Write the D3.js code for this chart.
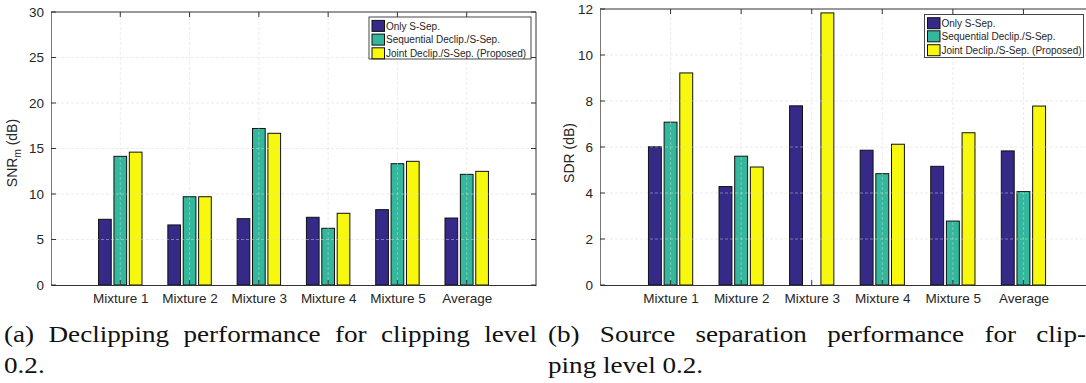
<!DOCTYPE html>
<html>
<head>
<meta charset="utf-8">
<script src="https://cdn.jsdelivr.net/npm/d3@7"></script>
<style>
  html, body { margin: 0; padding: 0; background: #fff; }
  svg { display: block; }
  .tick-label { font-family: "Liberation Sans", Arial, sans-serif; fill: #262626; }
  .caption { font-family: "Liberation Serif", serif; fill: #111; }
</style>
</head>
<body>
<svg id="chart" width="1086" height="383"></svg>
<script>
// Categories and series
const categories = ["Mixture 1", "Mixture 2", "Mixture 3", "Mixture 4", "Mixture 5", "Average"];
const seriesNames = ["Only S-Sep.", "Sequential Declip./S-Sep.", "Joint Declip./S-Sep. (Proposed)"];
const seriesColors = ["#352A87", "#33B79D", "#F8F80E"];

// SNR_m (dB), declipping performance
const snrOnly       = [7.22, 6.60, 7.29, 7.44, 8.28, 7.36];
const snrSequential = [14.14, 9.70, 17.20, 6.23, 13.33, 12.16];
const snrJoint      = [14.60, 9.70, 16.67, 7.88, 13.59, 12.49];

// SDR (dB), source separation performance (no sequential result for Mixture 3)
const sdrOnly       = [6.01, 4.28, 7.79, 5.86, 5.16, 5.83];
const sdrSequential = [7.08, 5.60, null, 4.84, 2.78, 4.06];
const sdrJoint      = [9.22, 5.13, 11.83, 6.12, 6.62, 7.78];

const snrTicks = [0, 5, 10, 15, 20, 25, 30];
const sdrTicks = [0, 2, 4, 6, 8, 10, 12];

const captionA = ["(a) Declipping performance for clipping level", "0.2."];
const captionB = ["(b) Source separation performance for clip-", "ping level 0.2."];

const svg = d3.select("#chart");

function drawPanel(opts) {
  const { xRange, yRange, yDomain, yTicks, series, yLabel, labelX, legend } = opts;
  const g = svg.append("g");
  const x = d3.scaleLinear().domain([0, 7]).range(xRange);
  const y = d3.scaleLinear().domain(yDomain).range(yRange);
  const [x0, x1] = xRange;
  const [yb, yt] = yRange;
  const catPos = categories.map((c, i) => i + 1);

  // bars
  const offsets = [-0.222, 0, 0.222];
  const bw = 0.183;
  series.forEach((vals, si) => {
    const data = vals.map((v, i) => ({ v, i })).filter(d => d.v !== null);
    g.append("g").selectAll("rect").data(data).join("rect")
      .attr("x", d => x(d.i + 1 + offsets[si] - bw / 2))
      .attr("width", d => x(bw) - x(0))
      .attr("y", d => y(d.v))
      .attr("height", d => y(yDomain[0]) - y(d.v))
      .attr("fill", seriesColors[si])
      .attr("stroke", "#111").attr("stroke-width", 1);
  });

  // dashed grid drawn over the bars
  const grid = g.append("g").attr("stroke", "#d8d8d8").attr("stroke-opacity", 0.6)
    .attr("stroke-width", 0.8).attr("stroke-dasharray", "3,2");
  grid.selectAll("line.gy").data(yTicks.slice(1, -1)).join("line").attr("class", "gy")
    .attr("x1", x0).attr("x2", x1)
    .attr("y1", d => y(d)).attr("y2", d => y(d));
  grid.selectAll("line.gx").data(catPos).join("line").attr("class", "gx")
    .attr("x1", d => x(d)).attr("x2", d => x(d))
    .attr("y1", yb).attr("y2", yt);

  // axes (ticks inward on all sides)
  const axisColor = "#333";
  const left = g.append("g").attr("transform", `translate(${x0},0)`)
    .call(d3.axisLeft(y).tickValues(yTicks).tickSize(0).tickPadding(7));
  left.selectAll("text").attr("class", "tick-label").style("font-size", "13.5px");
  left.select(".domain").attr("stroke", "#777");
  const bottom = g.append("g").attr("transform", `translate(0,${yb})`)
    .call(d3.axisBottom(x).tickValues(catPos).tickFormat((d, i) => categories[i]).tickSize(0).tickPadding(8));
  bottom.selectAll("text").attr("class", "tick-label").style("font-size", "13.5px");
  bottom.select(".domain").attr("stroke", axisColor);

  // box and inward tick marks
  g.append("line").attr("x1", x0).attr("x2", x1).attr("y1", yt).attr("y2", yt).attr("stroke", axisColor);
  g.append("line").attr("x1", x1).attr("x2", x1).attr("y1", yt).attr("y2", yb).attr("stroke", axisColor);
  const tl = 5;
  g.append("g").selectAll("path").data(catPos).join("path")
    .attr("d", d => `M${x(d)},${yb}v${-tl}M${x(d)},${yt}v${tl}`)
    .attr("stroke", axisColor).attr("fill", "none");
  g.append("g").selectAll("path").data(yTicks).join("path")
    .attr("d", d => `M${x0},${y(d)}h${tl}M${x1},${y(d)}h${-tl}`)
    .attr("stroke", axisColor).attr("fill", "none");

  // y label
  const lab = g.append("text").attr("class", "tick-label")
    .attr("transform", `translate(${labelX},153) rotate(-90)`)
    .attr("text-anchor", "middle").style("font-size", "14px");
  yLabel.forEach(part => {
    const t = lab.append("tspan").text(part.text);
    if (part.sub) t.attr("baseline-shift", "-4").style("font-size", "10px");
    else t.attr("baseline-shift", "0");
  });

  // legend
  const lg = g.append("g").attr("transform", `translate(${legend.x},${legend.y})`);
  lg.append("rect").attr("width", legend.w).attr("height", legend.h)
    .attr("fill", "#fff").attr("stroke", "#333").attr("stroke-width", 0.9);
  seriesNames.forEach((name, i) => {
    const ry = legend.rowY[i];
    lg.append("rect").attr("x", 3).attr("y", ry - 5.5).attr("width", 12.5).attr("height", 11)
      .attr("fill", seriesColors[i]).attr("stroke", "#111").attr("stroke-width", 1);
    lg.append("text").attr("class", "tick-label").attr("x", 17).attr("y", ry + 3.6)
      .style("font-size", "10px").text(name);
  });
}

drawPanel({
  xRange: [51, 536], yRange: [285, 12], yDomain: [0, 30], yTicks: snrTicks,
  series: [snrOnly, snrSequential, snrJoint],
  yLabel: [{ text: "SNR" }, { text: "m", sub: true }, { text: " (dB)" }],
  labelX: 17,
  legend: { x: 369, y: 17, w: 162, h: 42, rowY: [8.9, 22.6, 36.3] }
});

drawPanel({
  xRange: [600, 1094], yRange: [285, 9], yDomain: [0, 12], yTicks: sdrTicks,
  series: [sdrOnly, sdrSequential, sdrJoint],
  yLabel: [{ text: "SDR (dB)" }],
  labelX: 574,
  legend: { x: 924.5, y: 14.5, w: 159, h: 43, rowY: [8.7, 21.8, 35.7] }
});

// captions: serif text widened slightly, first line justified across the column
const capSize = 24, capStretch = 1.13;
function wordWidth(w) {
  const t = svg.append("text").attr("class", "caption").style("font-size", capSize + "px").text(w);
  const len = t.node().getComputedTextLength();
  t.remove();
  return len * capStretch;
}
function putWord(w, x, y, len) {
  svg.append("text").attr("class", "caption").style("font-size", capSize + "px")
    .attr("x", x).attr("y", y).attr("textLength", len).attr("lengthAdjust", "spacingAndGlyphs").text(w);
}
function caption(lines, x0, x1, y0, lh) {
  const words = lines[0].split(" ");
  const widths = words.map(wordWidth);
  const gap = (x1 - x0 - d3.sum(widths)) / (words.length - 1);
  let cx = x0;
  words.forEach((w, i) => { putWord(w, cx, y0, widths[i]); cx += widths[i] + gap; });
  const words2 = lines[1].split(" ");
  const space = wordWidth("a a") - wordWidth("aa");
  cx = x0;
  words2.forEach(w => { const len = wordWidth(w); putWord(w, cx, y0 + lh, len); cx += len + space; });
}
caption(captionA, 4, 537, 342, 31);
caption(captionB, 548, 1086, 342, 31);
</script>
</body>
</html>
